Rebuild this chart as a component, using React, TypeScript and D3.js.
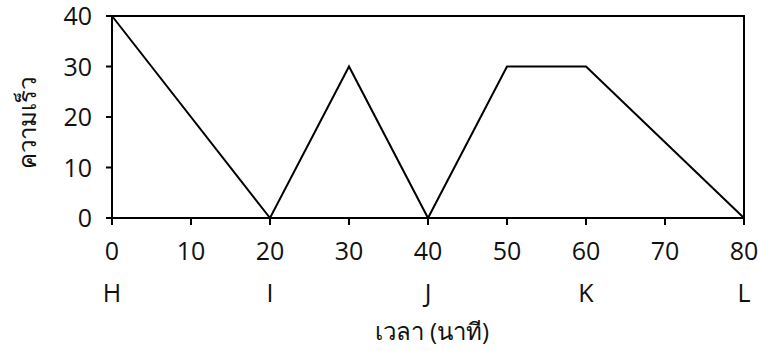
import React from "react";
import * as d3 from "d3";

const times = [0, 20, 30, 40, 50, 60, 80];
const speeds = [40, 0, 30, 0, 30, 30, 0];
const xTicks = [0, 10, 20, 30, 40, 50, 60, 70, 80];
const yTicks = [0, 10, 20, 30, 40];
const pointLabels = ["H", "I", "J", "K", "L"];
const pointTimes = [0, 20, 40, 60, 80];
const xTitle = "เวลา (นาที)";
const yTitle = "ความเร็ว";

const W = 760, H = 351;
const left = 112, right = 744, top = 16, bottom = 218;
const font = "'Open Sans', 'DejaVu Sans', sans-serif";

export default function App() {
  const x = d3.scaleLinear().domain([0, 80]).range([left, right]);
  const y = d3.scaleLinear().domain([0, 40]).range([bottom, top]);
  const line = d3.line<number>().x((_, i) => x(times[i])).y((d) => y(d));
  return (
    <svg width={W} height={H} style={{ position: "absolute", left: 0, top: 0, background: "#fff" }}>
      <rect x={left} y={top} width={right - left} height={bottom - top} fill="none" stroke="#000" strokeWidth={2} />
      <path d={line(speeds) || ""} fill="none" stroke="#000" strokeWidth={2} strokeLinejoin="miter" />
      {yTicks.map((t) => (
        <g key={"y" + t}>
          <line x1={left - 6} x2={left} y1={y(t)} y2={y(t)} stroke="#000" strokeWidth={2} />
          <text x={left - 20} y={y(t)} dy="0.36em" textAnchor="end" fontSize={25} fontFamily={font} fill="#111">{t}</text>
        </g>
      ))}
      {xTicks.map((t) => (
        <g key={"x" + t}>
          <line x1={x(t)} x2={x(t)} y1={bottom} y2={bottom + 7} stroke="#000" strokeWidth={2} />
          <text x={x(t)} y={260} textAnchor="middle" fontSize={25} fontFamily={font} fill="#111">{t}</text>
        </g>
      ))}
      {pointLabels.map((l, i) => (
        <text key={l} x={x(pointTimes[i])} y={302} textAnchor="middle" fontSize={25} fontFamily={font} fill="#111">{l}</text>
      ))}
      <text x={432} y={340} textAnchor="middle" fontSize={24} fontFamily={font} fill="#111">{xTitle}</text>
      <text transform={`translate(36,123) rotate(-90)`} textAnchor="middle" fontSize={24} fontFamily={font} fill="#111">{yTitle}</text>
    </svg>
  );
}
